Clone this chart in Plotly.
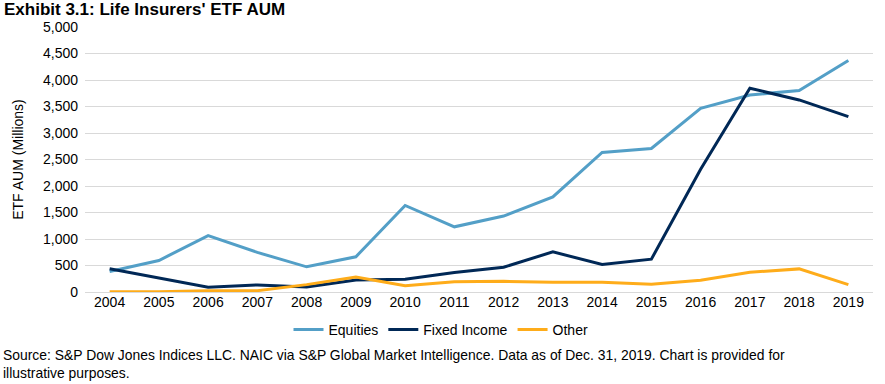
import plotly.graph_objects as go

years = [str(y) for y in range(2004, 2020)]
equities = [386, 595, 1063, 747, 475, 665, 1633, 1230, 1433, 1793, 2633, 2708, 3466, 3718, 3800, 4369]
fixed_income = [437, 266, 89, 133, 95, 228, 241, 370, 467, 758, 518, 619, 2317, 3845, 3624, 3308]
other = [5, 5, 25, 25, 139, 285, 120, 195, 202, 183, 183, 145, 221, 372, 436, 139]

series = [
    ("Equities", equities, "#539FC7"),
    ("Fixed Income", fixed_income, "#002856"),
    ("Other", other, "#FEAC1A"),
]

W, H = 885, 384
ML, MR, MT, MB = 85, 12, 27, 92

fig = go.Figure()
for name, vals, color in series:
    fig.add_trace(go.Scatter(x=years, y=vals, name=name, mode="lines",
                             line=dict(color=color, width=3)))

fig.update_layout(
    width=W, height=H,
    margin=dict(l=ML, r=MR, t=MT, b=MB, autoexpand=False),
    paper_bgcolor="white", plot_bgcolor="white",
    font=dict(family="Liberation Sans, Arial, sans-serif", size=14, color="#000000"),
    showlegend=True,
    legend=dict(orientation="h", xref="container", x=441 / W, xanchor="center",
                yref="container", y=1 - 330 / H, yanchor="middle",
                font=dict(size=14), tracegroupgap=0),
    annotations=[
        dict(text="<b>Exhibit 3.1: Life Insurers' ETF AUM</b>", x=1, y=1,
             xref="paper", yref="paper", showarrow=False, font=dict(size=17)),
        dict(text="Source: S&P Dow Jones Indices LLC. NAIC via S&P Global Market Intelligence. Data as of Dec. 31, 2019. Chart is provided for<br>illustrative purposes.",
             x=0, y=0, xref="paper", yref="paper", showarrow=False, align="left",
             font=dict(size=13.9)),
    ],
)
pw, ph = W - ML - MR, H - MT - MB
fig.layout.annotations[0].update(x=(2 - ML) / pw, xanchor="left", y=1 + (MT + 2) / ph, yanchor="top")
fig.layout.annotations[1].update(x=(1 - ML) / pw, xanchor="left", y=-(MB - 1) / ph, yanchor="bottom")

fig.update_xaxes(type="category", range=[-0.5, 15.5], showgrid=False, showline=False, ticks="",
                 tickfont=dict(size=14), automargin=False)
fig.update_yaxes(range=[0, 5000], dtick=500, tickformat=",", showgrid=True,
                 gridcolor="#D9D9D9", gridwidth=1, zeroline=True, zerolinecolor="#D9D9D9",
                 zerolinewidth=1, showline=False, ticks="", ticklabelstandoff=6,
                 title=dict(text="ETF AUM (Millions)", font=dict(size=14), standoff=16),
                 tickfont=dict(size=14), automargin=False)

fig.write_html("out.html", config={"displayModeBar": False},
               post_script="document.body.style.margin='0';")
